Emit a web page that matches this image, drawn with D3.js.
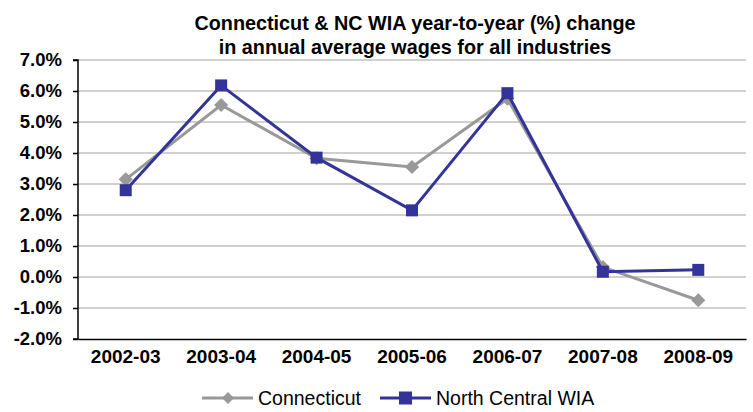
<!DOCTYPE html>
<html><head><meta charset="utf-8">
<script src="https://cdn.jsdelivr.net/npm/d3@7"></script>
<style>body{margin:0;background:#fff;} svg{display:block;font-family:"Liberation Sans",Arial,sans-serif;}</style>
</head><body><svg id="c" width="753" height="412"></svg>
<script>
const categories = ["2002-03","2003-04","2004-05","2005-06","2006-07","2007-08","2008-09"];
const connecticut = [3.15, 5.55, 3.83, 3.55, 5.75, 0.32, -0.75];
const ncWia = [2.80, 6.18, 3.85, 2.15, 5.93, 0.17, 0.23];
const yTicks = [-2,-1,0,1,2,3,4,5,6,7];
const seriesNames = ["Connecticut","North Central WIA"];
const titleLines = ["Connecticut & NC WIA year-to-year (%) change","in annual average wages for all industries"];

const svg = d3.select("#c");
const L = 78, R = 746, T = 60, B = 339;
const x = d3.scaleBand().domain(categories).range([L, R]);
const y = d3.scaleLinear().domain([-2, 7]).range([B, T]);
const colors = ["#999999", "#333399"];
const FF = "Liberation Sans, Arial, sans-serif";

// title
svg.append("g").selectAll("text").data(titleLines).join("text")
  .attr("x", 415).attr("y", (d,i)=>30 + i*23.5)
  .attr("text-anchor","middle").attr("font-weight","bold").attr("font-size",19.8)
  .text(d=>d);

// gridlines
svg.append("g").selectAll("line").data(yTicks.filter(t=>t>-2)).join("line")
  .attr("x1", L).attr("x2", R).attr("y1", d=>y(d)).attr("y2", d=>y(d))
  .attr("stroke","#c0c0c0").attr("stroke-width",1.5);

// y axis
const ya = svg.append("g").attr("transform",`translate(${L},0)`)
  .call(d3.axisLeft(y).tickValues(yTicks).tickFormat(d=>d.toFixed(1)+"%").tickSize(5).tickPadding(11));
ya.select(".domain").attr("stroke","#000").attr("stroke-width",1.5).attr("d",`M-5,${T}H0V${B}H-5`);
ya.selectAll(".tick line").attr("stroke","#000").attr("stroke-width",1.5);
ya.selectAll(".tick text").attr("font-size",18.5).attr("font-weight","bold").attr("fill","#000")
  .attr("font-family",FF);

// x axis
const xa = svg.append("g").attr("transform",`translate(0,${B})`)
  .call(d3.axisBottom(x).tickSize(0).tickPadding(11));
xa.select(".domain").attr("stroke","#000").attr("stroke-width",1.5);
xa.selectAll(".tick text").attr("font-size",19).attr("font-weight","bold").attr("fill","#000")
  .attr("font-family",FF);

const cx = d => x(d) + x.bandwidth()/2;
const line = d3.line().x(d=>cx(d.c)).y(d=>y(d.v));
const data = [connecticut, ncWia].map(arr => arr.map((v,i)=>({c:categories[i], v})));

// Connecticut
svg.append("path").datum(data[0]).attr("d", line).attr("fill","none")
  .attr("stroke", colors[0]).attr("stroke-width",3);
svg.append("g").selectAll("path").data(data[0]).join("path")
  .attr("transform", d=>`translate(${cx(d.c)},${y(d.v)}) rotate(45)`)
  .attr("d", d3.symbol().type(d3.symbolSquare).size(100)).attr("fill", colors[0]);

// NC WIA
svg.append("path").datum(data[1]).attr("d", line).attr("fill","none")
  .attr("stroke", colors[1]).attr("stroke-width",3);
svg.append("g").selectAll("rect").data(data[1]).join("rect")
  .attr("x", d=>cx(d.c)-6).attr("y", d=>y(d.v)-6).attr("width",12).attr("height",12)
  .attr("fill", colors[1]);

// legend
const lg = svg.append("g");
const legX = [202, 380];
seriesNames.forEach((n,i)=>{
  const g = lg.append("g").attr("transform",`translate(${legX[i]},398)`);
  g.append("line").attr("x1",0).attr("x2",51).attr("stroke",colors[i]).attr("stroke-width",3);
  if(i===0){
    g.append("path").attr("transform","translate(26,0) rotate(45)")
      .attr("d", d3.symbol().type(d3.symbolSquare).size(72)).attr("fill",colors[i]);
  } else {
    g.append("rect").attr("x",19).attr("y",-6.5).attr("width",13).attr("height",13).attr("fill",colors[i]);
  }
  g.append("text").attr("x",56).attr("y",7).attr("font-size",19.5).attr("fill","#000").text(n);
});
</script></body></html>
